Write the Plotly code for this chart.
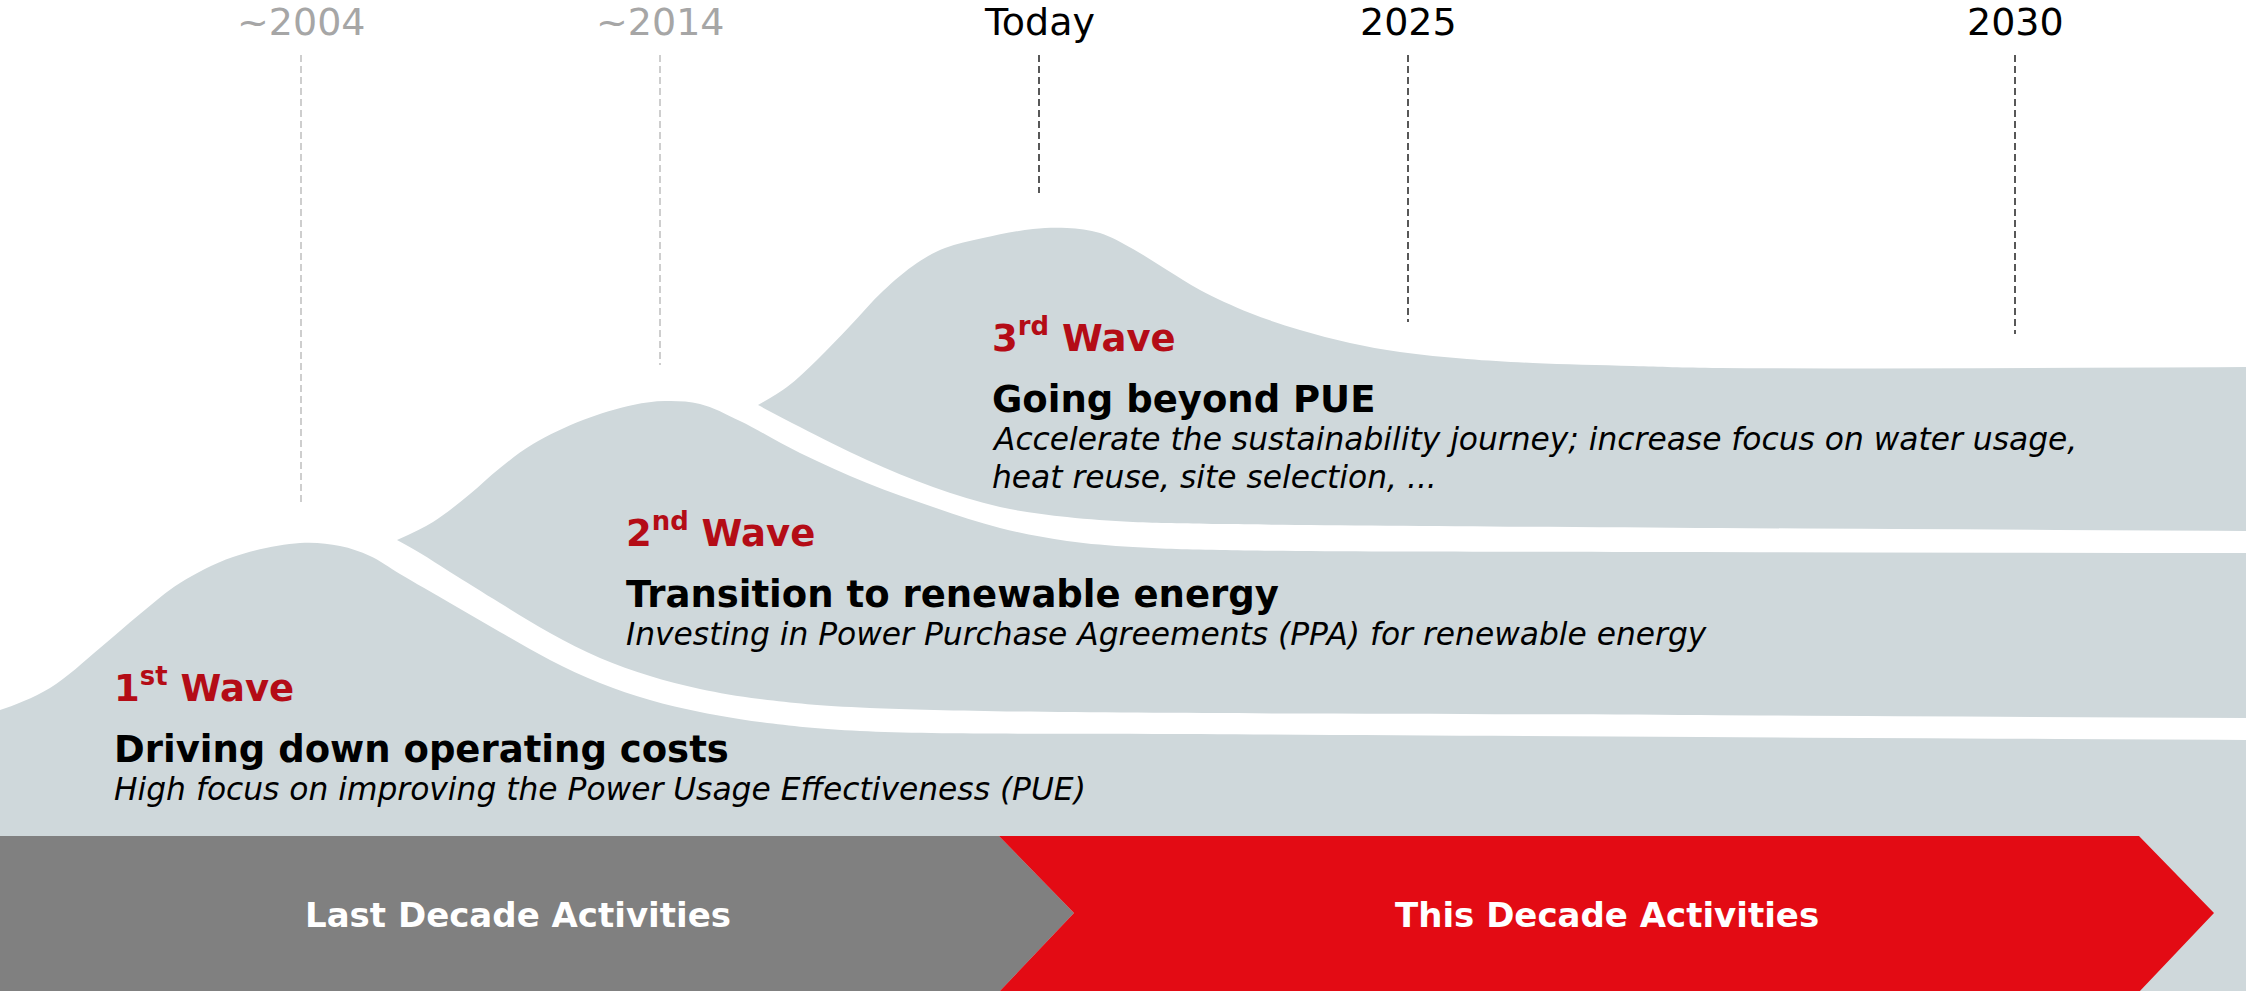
import plotly.graph_objects as go

W, H = 2246, 991

# ---------------- data ----------------
MILESTONES = ["~2004", "~2014", "Today", "2025", "2030"]
MILESTONE_X = [301, 660, 1039, 1408, 2015]
MILESTONE_LINE_END = [506, 365, 193, 322, 334]
MILESTONE_PAST = [True, True, False, False, False]

# wave profiles (canvas units, y grows downward)
WAVE3_TOP_X = [758, 787, 817, 850, 883, 917, 945, 983, 1033, 1067, 1100, 1133, 1167, 1200, 1250, 1300, 1350, 1400, 1467, 1533, 1633, 1720, 2270]
WAVE3_TOP_Y = [405, 387, 360, 326, 291, 263, 248, 238, 229, 228, 233, 249, 270, 290, 313, 330, 343, 352, 359, 363, 366, 368, 367]
WAVE3_BOT_X = [758, 800, 867, 933, 1000, 1067, 1133, 1220, 1720, 2270]
WAVE3_BOT_Y = [405, 427, 460, 487, 507, 517, 522, 524, 528, 531]

WAVE2_TOP_X = [397, 433, 470, 500, 533, 583, 633, 665, 700, 740, 800, 867, 933, 1000, 1067, 1133, 1220, 1700, 2270]
WAVE2_TOP_Y = [540, 522, 494, 468, 444, 420, 405, 401, 404, 421, 453, 483, 507, 528, 541, 547, 550, 552, 553]
WAVE2_BOT_X = [397, 420, 450, 500, 550, 600, 650, 700, 760, 870, 1700, 2270]
WAVE2_BOT_Y = [540, 553, 572, 603, 633, 658, 676, 689, 699, 708, 715, 718]

WAVE1_TOP_X = [-20, 0, 50, 100, 140, 180, 233, 300, 340, 370, 400, 450, 500, 550, 600, 650, 700, 760, 860, 1200, 1700, 2270]
WAVE1_TOP_Y = [714, 710, 688, 648, 614, 583, 557, 543, 546, 556, 574, 603, 632, 660, 683, 700, 712, 722, 731, 734, 737, 740]
WAVE1_BASE_X = [-20, 2270]
WAVE1_BASE_Y = [1010, 1010]

WAVE_ORDINALS = ["1<sup>st</sup>", "2<sup>nd</sup>", "3<sup>rd</sup>"]
WAVE_HEADINGS = ["Driving down operating costs",
                 "Transition to renewable energy",
                 "Going beyond PUE"]
WAVE_DESCRIPTIONS = [
    ["High focus on improving the Power Usage Effectiveness (PUE)"],
    ["Investing in Power Purchase Agreements (PPA) for renewable energy"],
    ["Accelerate the sustainability journey; increase focus on water usage,",
     "heat reuse, site selection, ..."],
]

ARROW_LABELS = ["Last Decade Activities", "This Decade Activities"]

# ---------------- layout constants ----------------
FONT = "DejaVu Sans"
WAVE_FILL = "#CFD8DB"
TITLE_RED = "#B40C16"
ARROW_COLORS = ["#808080", "#E30B14"]
ARROW_START = [0, 999]
ARROW_END = [999, 2139]
ARROW_TOP, ARROW_MID, ARROW_BOT = 836, 913, 990
ARROW_DEPTH = 75

WAVE_TEXT_X = [112, 624, 990]
WAVE_TITLE_BASE = [703, 548, 353]
TITLE_SIZE, HEAD_SIZE, DESC_SIZE = 37, 37, 31.3
YEAR_SIZE = 38

fig = go.Figure()


def add_band(bx, by, tx, ty):
    fig.add_trace(go.Scatter(x=bx, y=by, mode="lines", line=dict(width=0, shape="spline", smoothing=1),
                             hoverinfo="skip", showlegend=False))
    fig.add_trace(go.Scatter(x=tx, y=ty, mode="lines", line=dict(width=0, shape="spline", smoothing=1),
                             fill="tonexty", fillcolor=WAVE_FILL, hoverinfo="skip", showlegend=False))


add_band(WAVE3_BOT_X, WAVE3_BOT_Y, WAVE3_TOP_X, WAVE3_TOP_Y)
add_band(WAVE2_BOT_X, WAVE2_BOT_Y, WAVE2_TOP_X, WAVE2_TOP_Y)
add_band(WAVE1_BASE_X, WAVE1_BASE_Y, WAVE1_TOP_X, WAVE1_TOP_Y)

# arrows
for i, label in enumerate(ARROW_LABELS):
    x0, x1 = ARROW_START[i], ARROW_END[i]
    if i == 0:
        xs = [x0, x1, x1 + ARROW_DEPTH, x1, x0, x0]
        ys = [ARROW_TOP, ARROW_TOP, ARROW_MID, ARROW_BOT + 2, ARROW_BOT + 2, ARROW_TOP]
    else:
        xs = [x0, x1, x1 + ARROW_DEPTH, x1, x0, x0 + ARROW_DEPTH, x0]
        ys = [ARROW_TOP, ARROW_TOP, ARROW_MID, ARROW_BOT + 2, ARROW_BOT + 2, ARROW_MID, ARROW_TOP]
    fig.add_trace(go.Scatter(x=xs, y=ys, mode="lines", line=dict(width=0), fill="toself",
                             fillcolor=ARROW_COLORS[i], hoverinfo="skip", showlegend=False))
    fig.add_annotation(x=(x0 + x1 + ARROW_DEPTH / 2) / 2 if i == 0 else (x0 + x1 + ARROW_DEPTH) / 2,
                       y=ARROW_MID + 2, xref="x", yref="y",
                       text=f"<b>{label}</b>", showarrow=False, xanchor="center", yanchor="middle",
                       font=dict(family=FONT, size=34, color="white"))

# milestone lines & labels
for name, mx, end, past in zip(MILESTONES, MILESTONE_X, MILESTONE_LINE_END, MILESTONE_PAST):
    fig.add_trace(go.Scatter(x=[mx, mx], y=[55, end], mode="lines",
                             line=dict(color="#BFBFBF" if past else "#222222", width=1.5, dash="7px,4px"),
                             hoverinfo="skip", showlegend=False))
    fig.add_annotation(x=mx, y=37 + 0.236 * YEAR_SIZE, xref="x", yref="y", text=name, showarrow=False,
                       xanchor="center", yanchor="bottom",
                       font=dict(family=FONT, size=YEAR_SIZE, color="#A6A6A6" if past else "#000000"))

# wave texts
for i in range(3):
    x = WAVE_TEXT_X[i]
    b = WAVE_TITLE_BASE[i]
    fig.add_annotation(x=x, y=b + 0.236 * TITLE_SIZE, xref="x", yref="y",
                       text=f"<b>{WAVE_ORDINALS[i]} Wave</b>", showarrow=False,
                       xanchor="left", yanchor="bottom",
                       font=dict(family=FONT, size=TITLE_SIZE, color=TITLE_RED))
    hb = b + 61
    fig.add_annotation(x=x, y=hb + 0.236 * HEAD_SIZE, xref="x", yref="y",
                       text=f"<b>{WAVE_HEADINGS[i]}</b>", showarrow=False,
                       xanchor="left", yanchor="bottom",
                       font=dict(family=FONT, size=HEAD_SIZE, color="#000000"))
    for j, line in enumerate(WAVE_DESCRIPTIONS[i]):
        db = hb + 38 + 38 * j
        fig.add_annotation(x=x, y=db + 0.236 * DESC_SIZE, xref="x", yref="y",
                           text=f"<i>{line}</i>", showarrow=False,
                           xanchor="left", yanchor="bottom",
                           font=dict(family=FONT, size=DESC_SIZE, color="#000000"))

fig.update_layout(
    width=W, height=H,
    margin=dict(l=0, r=0, t=0, b=0),
    paper_bgcolor="white", plot_bgcolor="white",
    showlegend=False,
    xaxis=dict(range=[0, W], visible=False, fixedrange=True),
    yaxis=dict(range=[H, 0], visible=False, fixedrange=True),
)

fig.write_html("out.html", config={"displayModeBar": False},
               post_script="document.body.style.margin='0px';document.body.style.overflow='hidden';")
